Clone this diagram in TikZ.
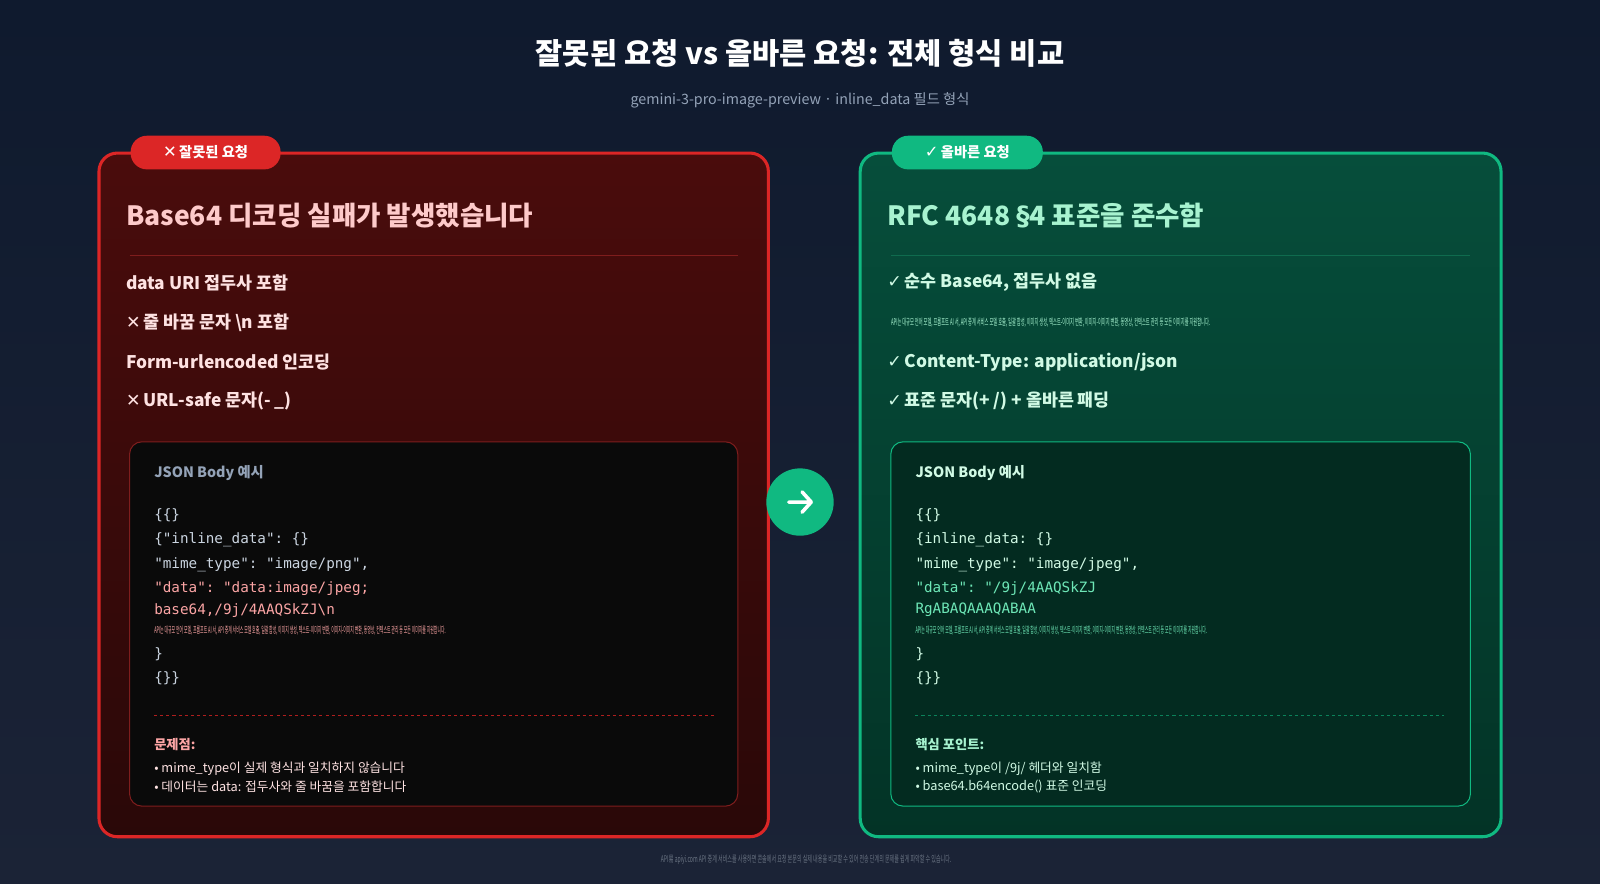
\documentclass[tikz,border=0pt]{standalone}
\usepackage{fontspec}
\setmainfont{Noto Sans CJK KR}
\setmonofont{DejaVu Sans Mono}
\newfontfamily\symf{DejaVu Sans}
\newfontfamily\krf{Noto Sans CJK KR}
\definecolor{bgA}{HTML}{0F1A2E}
\definecolor{bgB}{HTML}{1B2336}
\definecolor{redB}{HTML}{DC2626}
\definecolor{redT}{HTML}{4A0C0C}
\definecolor{redD}{HTML}{2A0808}
\definecolor{redL}{HTML}{FCA5A5}
\definecolor{redH}{HTML}{FECACA}
\definecolor{redE}{HTML}{FEE2E2}
\definecolor{redLine}{HTML}{7F1D1D}
\definecolor{grB}{HTML}{10B981}
\definecolor{grT}{HTML}{064E3B}
\definecolor{grD}{HTML}{033326}
\definecolor{grL}{HTML}{6EE7B7}
\definecolor{grH}{HTML}{A7F3D0}
\definecolor{grE}{HTML}{D1FAE5}
\definecolor{grLine}{HTML}{0F6B4E}
\definecolor{codeG}{HTML}{CBD5E1}
\definecolor{subG}{HTML}{94A3B8}
\tikzset{
 card/.style={rounded corners=18pt,line width=3pt},
 inner/.style={rounded corners=12pt,line width=1pt},
 badge/.style={rounded corners=16pt,minimum height=33pt,text=white,font=\bfseries\fontsize{14}{16}\selectfont,inner sep=0pt},
 head/.style={anchor=west,font=\bfseries\fontsize{26}{30}\selectfont},
 item/.style={anchor=west,font=\bfseries\fontsize{17}{20}\selectfont},
 code/.style={anchor=west,font=\ttfamily\fontsize{14}{16}\selectfont,inner sep=0pt},
 small/.style={anchor=west,font=\fontsize{12.5}{14}\selectfont,inner sep=0pt},
 tiny/.style={anchor=west,inner sep=0pt},
}
\newcommand{\squish}[2]{\scalebox{#1}[1]{\krf\fontsize{9}{10}\selectfont #2}}
\begin{document}
\begin{tikzpicture}[x=1pt,y=-1pt]
\useasboundingbox (0,0) rectangle (1568,866);
\shade[top color=bgA,bottom color=bgB] (0,0) rectangle (1568,866);
\node[text=white,font=\bfseries\fontsize{29}{33}\selectfont] (title) at (784,52) {잘못된 요청 vs 올바른 요청: 전체 형식 비교};
\node[text=subG,font=\fontsize{14}{16}\selectfont] (sub) at (784,98) {gemini-3-pro-image-preview · inline\_data 필드 형식};
% left card
\shade[card,top color=redT,bottom color=redD] (97,150) rectangle (753,820);
\draw[card,draw=redB] (97,150) rectangle (753,820);
\node[badge,fill=redB,minimum width=147pt] (lb) at (201.5,149.5) {{\symf\fontsize{16}{16}\selectfont ✕}\,잘못된 요청};
\node[head,text=redH] (lh) at (120,211) {Base64 디코딩 실패가 발생했습니다};
\draw[redLine,line width=1pt] (127,250) -- (723,250);
\node[item,text=redE] (l1) at (120,277) {data URI 접두사 포함};
\node[item,text=redE] (l2) at (120,316) {{\symf ✕}\,줄 바꿈 문자 \textbackslash n 포함};
\node[item,text=redE] (l3) at (120,355) {Form-urlencoded 인코딩};
\node[item,text=redE] (l4) at (120,393) {{\symf ✕}\,URL-safe 문자(- \_)};
\draw[inner,fill=black!96,draw=redLine] (127,433) rectangle (723,790);
\node[anchor=west,text=subG,font=\bfseries\fontsize{14}{16}\selectfont,inner sep=0pt] (lj) at (151,464) {JSON Body 예시};
\node[code,text=codeG] at (151,505) {\{\{\}};
\node[code,text=codeG] at (151,529) {\{"inline\_data": \{\}};
\node[code,text=codeG] at (151,553) {"mime\_type": "image/png",};
\node[code,text=redL] at (151,577) {"data": "data:image/jpeg;};
\node[code,text=redL] at (151,598) {base64,/9j/4AAQSkZJ\textbackslash n};
\node[tiny,text=redL] at (151,618) {\squish{0.42}{API는 대규모 언어 모델, 프롬프트 AI 서, API 중계 서비스 모델 호출, 일괄 합성, 이미지 생성, 텍스트-이미지 변환, 이미지-이미지 변환, 동영상, 컨텍스트 관리 등 모든 이미지를 지원합니다.}};
\node[code,text=codeG] at (151,641) {\}};
\node[code,text=codeG] at (151,665) {\{\}\}};
\draw[redB!80!black,dashed,line width=1pt] (151,701) -- (700,701);
\node[anchor=west,text=redL,font=\bfseries\fontsize{13}{15}\selectfont,inner sep=0pt] at (151,730) {문제점:};
\node[small,text=redE] at (151,753) {• mime\_type이 실제 형식과 일치하지 않습니다};
\node[small,text=redE] at (151,771) {• 데이터는 data: 접두사와 줄 바꿈을 포함합니다};
% arrow
\node[circle,fill=grB,minimum size=66pt,inner sep=0pt] (arr) at (784,492) {};
\draw[white,line width=3.5pt,line cap=round,line join=round] (773,492) -- (795,492) (786,482) -- (795,492) -- (786,502);
% right card
\shade[card,top color=grT,bottom color=grD] (843,150) rectangle (1471,820);
\draw[card,draw=grB] (843,150) rectangle (1471,820);
\node[badge,fill=grB,minimum width=148pt] (rb) at (948,149.5) {{\symf\fontsize{16}{16}\selectfont ✓}\,올바른 요청};
\node[head,text=grH] (rh) at (866,211) {RFC 4648 {\symf §}4 표준을 준수함};
\draw[grLine,line width=1pt] (873,250) -- (1441,250);
\node[item,text=grE] (r1) at (866,277) {{\symf ✓}\,순수 Base64, 접두사 없음};
\node[tiny,text=grH] at (873,316) {\squish{0.46}{API는 대규모 언어 모델, 프롬프트 AI 서, API 중계 서비스 모델 호출, 일괄 합성, 이미지 생성, 텍스트-이미지 변환, 이미지-이미지 변환, 동영상, 컨텍스트 관리 등 모든 이미지를 지원합니다.}};
\node[item,text=grE] (r3) at (866,355) {{\symf ✓}\,Content-Type: application/json};
\node[item,text=grE] (r4) at (866,393) {{\symf ✓}\,표준 문자(+ /) + 올바른 패딩};
\draw[inner,fill=grD!85!black,draw=grB] (873,433) rectangle (1441,790);
\node[anchor=west,text=grE,font=\bfseries\fontsize{14}{16}\selectfont,inner sep=0pt] at (897,464) {JSON Body 예시};
\node[code,text=grE] at (897,505) {\{\{\}};
\node[code,text=grE] at (897,529) {\{inline\_data: \{\}};
\node[code,text=grE] at (897,553) {"mime\_type": "image/jpeg",};
\node[code,text=grL] at (897,577) {"data": "/9j/4AAQSkZJ};
\node[code,text=grL] at (897,598) {RgABAQAAAQABAA};
\node[tiny,text=grL] at (897,618) {\squish{0.42}{API는 대규모 언어 모델, 프롬프트 AI 서, API 중계 서비스 모델 호출, 일괄 합성, 이미지 생성, 텍스트-이미지 변환, 이미지-이미지 변환, 동영상, 컨텍스트 관리 등 모든 이미지를 지원합니다.}};
\node[code,text=grE] at (897,641) {\}};
\node[code,text=grE] at (897,665) {\{\}\}};
\draw[grB!70!black,dashed,line width=1pt] (897,701) -- (1415,701);
\node[anchor=west,text=grH,font=\bfseries\fontsize{13}{15}\selectfont,inner sep=0pt] at (897,730) {핵심 포인트:};
\node[small,text=grE] at (897,753) {• mime\_type이 /9j/ 헤더와 일치함};
\node[small,text=grE] at (897,771) {• base64.b64encode() 표준 인코딩};
\node[text=subG!70!black,inner sep=0pt] (foot) at (790,843) {\squish{0.55}{API易 apiyi.com API 중계 서비스를 사용하면 콘솔에서 요청 본문의 실제 내용을 비교할 수 있어 전송 단계의 문제를 쉽게 파악할 수 있습니다.}};
\end{tikzpicture}
\end{document}
